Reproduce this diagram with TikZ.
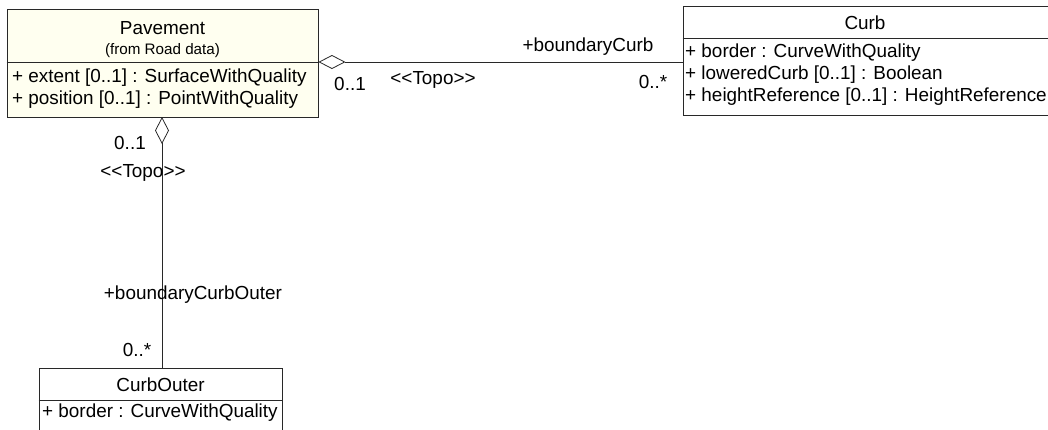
\documentclass[tikz,border=0pt]{standalone}
\usepackage{fontspec}
\setmainfont{Liberation Sans}
\usetikzlibrary{arrows.meta}
\definecolor{cream}{RGB}{255,255,240}
\definecolor{edge}{RGB}{40,40,40}
\tikzset{
  box/.style={draw=edge, line width=0.9pt, rectangle, inner sep=0pt},
  txt/.style={inner sep=0pt, font=\fontsize{18.9}{22}\selectfont, text=black},
  small/.style={inner sep=0pt, font=\fontsize{15.2}{18}\selectfont, text=black},
  attr/.style={txt, anchor=west},
  sep/.style={draw=edge, line width=0.9pt},
  assoc/.style={draw=edge, line width=0.8pt},
  agg/.style={assoc, {Diamond[open, length=27pt, width=14pt, line width=0.8pt]}-},
}
\newcommand{\topo}{<\kern0pt<Topo>\kern0pt>}
\begin{document}
\begin{tikzpicture}[x=1pt, y=-1pt]
\useasboundingbox (0,0) rectangle (1048,429);
\clip (0,0) rectangle (1048,429);
% boxes
\node[box, fill=cream, minimum width=311pt, minimum height=108pt] (pav) at (162.5,63) {};
\node[box, fill=white, minimum width=367pt, minimum height=109pt] (curb) at (866.5,60.5) {};
\node[box, fill=white, minimum width=243pt, minimum height=64pt] (cout) at (160.5,400) {};
% separators
\draw[sep] (pav.west |- 0,62) -- (pav.east |- 0,62);
\draw[sep] (curb.west |- 0,38) -- (curb.east |- 0,38);
\draw[sep] (cout.west |- 0,400) -- (cout.east |- 0,400);
% Pavement texts
\node[txt] (pavname) at (162.5,28) {Pavement};
\node[small] (pavfrom) at (162.5,51) {(from Road data)};
\node[attr] (pava1) at (12,78) {+ extent [0..1] : SurfaceWithQuality};
\node[attr] (pava2) at (12,100) {+ position [0..1] : PointWithQuality};
% Curb texts
\node[txt] (curbname) at (865,23) {Curb};
\node[attr] (curba1) at (685,53) {+ border : CurveWithQuality};
\node[attr] (curba2) at (685,75) {+ loweredCurb [0..1] : Boolean};
\node[attr] (curba3) at (685,97) {+ heightReference [0..1] : HeightReference};
% CurbOuter texts
\node[txt] (coutname) at (160.5,385) {CurbOuter};
\node[attr] (couta1) at (42,413) {+ border : CurveWithQuality};
% connectors
\coordinate (pr) at (pav.east |- 0,62);
\draw[agg] (pr) -- (curb.west |- pr);
\coordinate (pb) at (162,117);
\draw[agg] (pb) -- (pb |- cout.north);
% labels
\node[txt] (l1) at (588,47) {+boundaryCurb};
\node[txt] (l2) at (350,84) {0..1};
\node[txt] (l3) at (433,80) {\topo};
\node[txt] (l4) at (653,82) {0..*};
\node[txt] (l5) at (130,143) {0..1};
\node[txt] (l6) at (143,173) {\topo};
\node[txt] (l7) at (193,295) {+boundaryCurbOuter};
\node[txt] (l8) at (137,350) {0..*};
\end{tikzpicture}
\end{document}
